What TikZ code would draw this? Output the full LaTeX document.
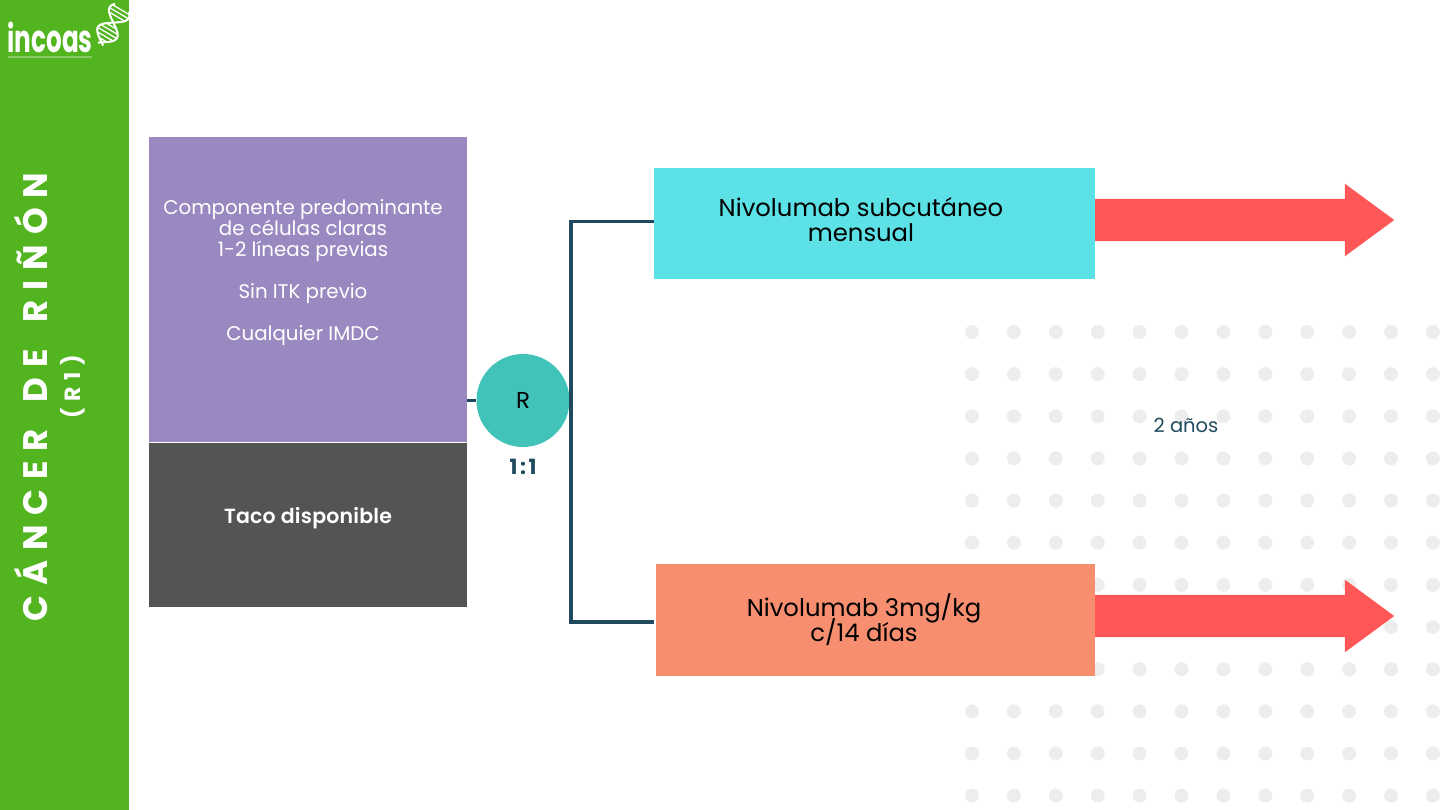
\documentclass[tikz,border=0pt]{standalone}
\usepackage{fontspec}
\setmainfont{Poppins}
\newfontfamily\spreadfont[LetterSpace=29]{Poppins}
\newfontfamily\roundfont[LetterSpace=30]{Poppins}
\newfontfamily\ratiofont[LetterSpace=12]{Poppins}
\newfontfamily\tacofont[LetterSpace=1]{Poppins SemiBold}
\usepackage{tikz,xcolor}
\usetikzlibrary{shapes.arrows}
\lineskiplimit=-20pt
\normallineskiplimit=-20pt
\definecolor{sidegreen}{HTML}{52B520}
\definecolor{critpurple}{HTML}{9A89C0}
\definecolor{critgrey}{HTML}{545454}
\definecolor{armcyan}{HTML}{5CE1E6}
\definecolor{armsalmon}{HTML}{F68E6F}
\definecolor{armred}{HTML}{FF5757}
\definecolor{randteal}{HTML}{41C3BA}
\definecolor{linkblue}{HTML}{1F4A5E}
\definecolor{dotgrey}{HTML}{EDEDED}
\tikzstyle{crit} = [minimum width=318pt, inner sep=0pt, text=white, align=center]
\tikzstyle{arm} = [inner sep=0pt, align=center, font=\fontsize{24.3}{25}\selectfont]
\tikzstyle{link} = [draw=linkblue, line width=3.2pt]
\tikzstyle{flow} = [single arrow, fill=armred, minimum height=299pt, minimum width=72pt, single arrow head extend=15pt, single arrow tip angle=72.6, single arrow head indent=0pt, inner sep=0pt]
\begin{document}
\begin{tikzpicture}[x=1pt, y=-1pt]
\useasboundingbox (0,0) rectangle (1440,810);
% dots
\foreach \i in {0,...,11}
    \foreach \j in {0,...,11}
        \fill[dotgrey] (972+41.9*\i,332+42.15*\j) circle (7);
% side band
\fill[sidegreen] (0,0) rectangle (128.5,810);
\node[rotate=90, text=white, font=\spreadfont\bfseries\fontsize{34}{34}\selectfont, inner sep=0pt, anchor=base] (title) at (47,397) {CÁNCER\hspace{10pt} DE\hspace{10pt} RIÑÓN};
\node[rotate=90, text=white, font=\roundfont\bfseries\fontsize{22}{22}\selectfont, inner sep=0pt, anchor=base] (round) at (80,387) {(R1)};
% logo
\node[text=white, font=\bfseries\fontsize{38}{38}\selectfont, xscale=.65, inner sep=0pt, anchor=base] (logo) at (50,53) {incoas};
\fill[white, opacity=.3] (8,56) rectangle (92,58.5);
\draw[white, line width=2pt, line join=round] plot[domain=0:42, samples=40] ({122-.51*\x+9.5*sin(180*(\x-17)/23)},{8+.86*\x+5.6*sin(180*(\x-17)/23)});
\draw[white, line width=2pt, line join=round] plot[domain=0:42, samples=40] ({122-.51*\x-9.5*sin(180*(\x-17)/23)},{8+.86*\x-5.6*sin(180*(\x-17)/23)});
\foreach \s in {2,6,10,21,25,29,33,37}
    \draw[white, line width=1.3pt] ({122-.51*\s+9.5*sin(180*(\s-17)/23)},{8+.86*\s+5.6*sin(180*(\s-17)/23)}) -- ({122-.51*\s-9.5*sin(180*(\s-17)/23)},{8+.86*\s-5.6*sin(180*(\s-17)/23)});
% criteria
\node[crit, fill=critpurple, minimum height=305pt, anchor=north west] (crit1) at (149,137) {};
\node[crit, fill=critgrey, minimum height=164.3pt, anchor=north west] (crit2) at (149,442.7) {};
\node[text=white, inner sep=0pt, font=\tacofont\fontsize{20.5}{21}\selectfont] (crit2text) at (308,518) {Taco disponible};
\node[text=white, align=center, font=\fontsize{19.8}{21}\selectfont, inner sep=0pt, anchor=north] (crittext) at (303,199) {Componente predominante\\de células claras\\1-2 líneas previas\\[21pt]Sin ITK previo\\[21pt]Cualquier IMDC};
% randomisation
\node[circle, fill=randteal, minimum size=93pt, inner sep=0pt, font=\fontsize{23}{23}\selectfont] (rand) at (523,400.5) {R};
\node[text=linkblue, font=\ratiofont\bfseries\fontsize{21}{21}\selectfont, inner sep=0pt] (ratio) at (523,467) {1:1};
% arms
\node[arm, fill=armcyan, minimum width=441pt, minimum height=111pt, anchor=north west] (armA) at (654,168) {};
\node[arm, fill=armsalmon, minimum width=439pt, minimum height=112pt, anchor=north west] (armB) at (656,564) {};
\node[arm, anchor=center] (armAtext) at (861,220) {Nivolumab subcutáneo\\mensual};
\node[arm, anchor=center] (armBtext) at (864,620) {Nivolumab 3mg/kg\\c/14 días};
\coordinate (top) at (571,221.5);
\coordinate (bot) at (571,622);
\draw[link] (crit1.east |- rand) -- (rand);
\draw[link] (armA.west |- top) -- (top) -- (bot) -- (armA.west |- bot);
\node[flow, anchor=west] (flowA) at (1095,220) {\rule{0pt}{42pt}};
\node[flow, anchor=west] (flowB) at (1095,616) {\rule{0pt}{42pt}};
\node[text=linkblue, font=\fontsize{19.5}{20}\selectfont, inner sep=0pt] (time) at (1186,425) {2 años};
\end{tikzpicture}
\end{document}
